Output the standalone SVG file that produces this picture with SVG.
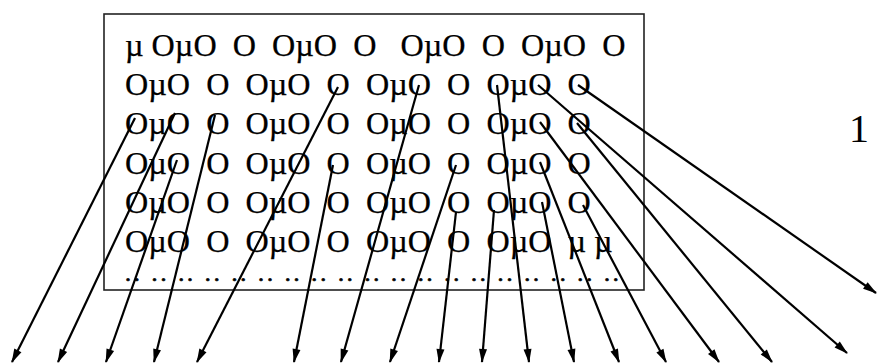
<svg xmlns="http://www.w3.org/2000/svg" width="877" height="363" viewBox="0 0 877 363">
<style>
.t{font-family:"Liberation Serif","Times New Roman",serif;font-size:32.2px;fill:#000;stroke:#000;stroke-width:0.25;white-space:pre}
.d{font-family:"Liberation Serif","Times New Roman",serif;font-size:24px;fill:#000;stroke:#000;stroke-width:0.7;white-space:pre}
.lab{font-family:"Liberation Serif","Times New Roman",serif;font-size:40px;fill:#000}
.a{fill:none;stroke:#000;stroke-width:2.2;marker-end:url(#ah)}
</style>
<defs>
<marker id="ah" markerUnits="userSpaceOnUse" markerWidth="16" markerHeight="10" refX="13" refY="4" orient="auto" overflow="visible">
<path d="M0,0 L14,4 L0,8 z" fill="#000"/>
</marker>
</defs>
<rect x="104" y="14" width="540" height="276" fill="#fff" stroke="#222" stroke-width="1.6"/>
<g id="grid">
<text class="t" x="125" y="56" xml:space="preserve">µ OµO  O  OµO  O   OµO  O  OµO  O</text>
<text class="t" x="125" y="95" xml:space="preserve">OµO  O  OµO  O  OµO  O  OµO  O</text>
<text class="t" x="125" y="134" xml:space="preserve">OµO  O  OµO  O  OµO  O  OµO  O</text>
<text class="t" x="125" y="174" xml:space="preserve">OµO  O  OµO  O  OµO  O  OµO  O</text>
<text class="t" x="125" y="213" xml:space="preserve">OµO  O  OµO  O  OµO  O  OµO  O</text>
<text class="t" x="125" y="252" xml:space="preserve">OµO  O  OµO  O  OµO  O  OµO  µ µ</text>
<text class="d" x="125" y="281" letter-spacing="2.87" xml:space="preserve">.. .. .. .. .. .. .. .. .. .. .. .. .. .. .. .. .. .. ..</text>
</g>
<g id="label"><text class="lab" x="849" y="142">1</text></g>
<g id="connectors">
<path class="a" d="M135,118 L12,362"/>
<path class="a" d="M175,113 L58,362"/>
<path class="a" d="M177,160 L106,362"/>
<path class="a" d="M215,115 L154,362"/>
<path class="a" d="M338,87 L197,362"/>
<path class="a" d="M333,165 L294,362"/>
<path class="a" d="M419,85 L341,362"/>
<path class="a" d="M456,165 L390,362"/>
<path class="a" d="M456,212 L439,362"/>
<path class="a" d="M494,210 L482,362"/>
<path class="a" d="M497,85 L529,362"/>
<path class="a" d="M542,202 L574,362"/>
<path class="a" d="M540,162 L619,362"/>
<path class="a" d="M583,205 L666,362"/>
<path class="a" d="M540,122 L719,362"/>
<path class="a" d="M577,123 L772,362"/>
<path class="a" d="M538,85 L847,353"/>
<path class="a" d="M578,85 L876,293"/>
</g>
</svg>
